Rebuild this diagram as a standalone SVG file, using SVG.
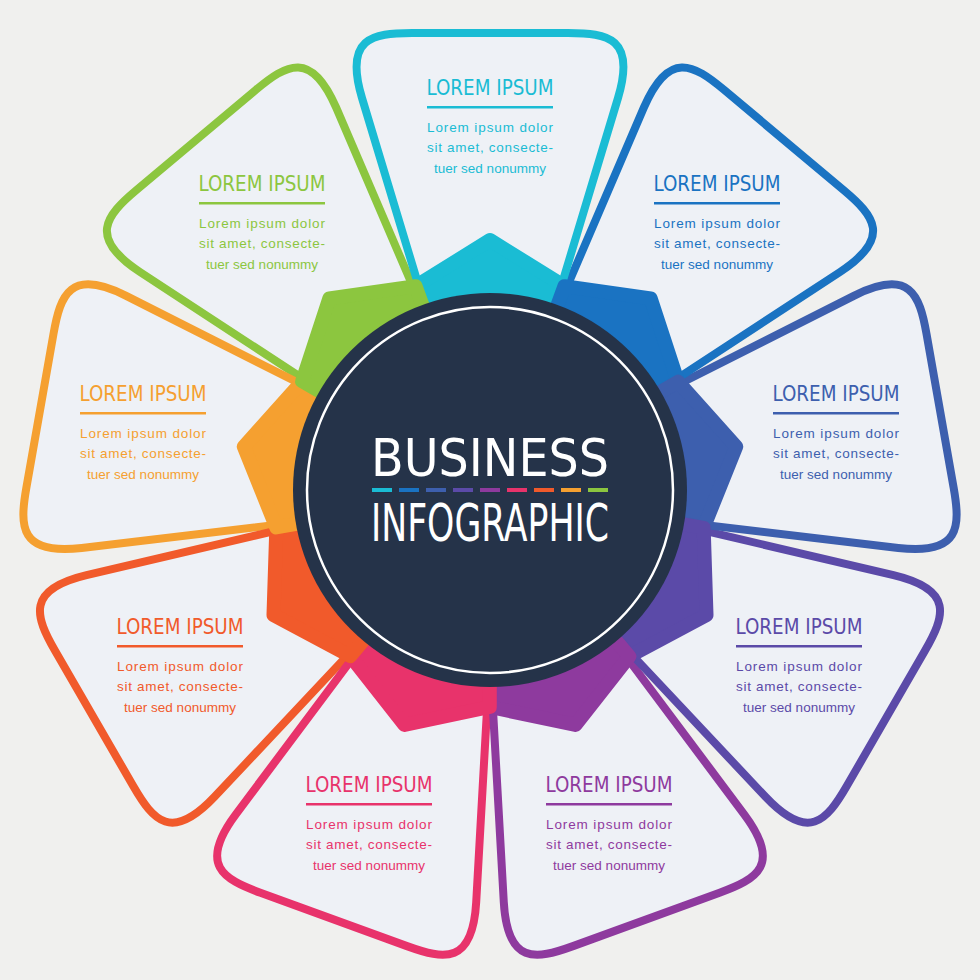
<svg xmlns="http://www.w3.org/2000/svg" width="980" height="980" viewBox="0 0 980 980">
<defs>
<path id="petal" d="M -55,-150 L -128,-392 C -146,-452 -118,-457 -78,-457 L 78,-457 C 118,-457 146,-452 128,-392 L 55,-150 Z"/>
<polygon id="seg" points="0,0 -74,-204 0,-250 74,-204"/>
</defs>
<style>
.p{fill:#EEF1F6;stroke-width:8;stroke-linejoin:round}
.s{stroke-width:14;stroke-linejoin:round}
.t{font-family:"DejaVu Sans Condensed","Liberation Sans",sans-serif;font-stretch:condensed;font-size:21px;text-anchor:middle}
.b{font-family:"Liberation Sans",Arial,sans-serif;font-size:13.5px;text-anchor:middle}
</style>
<rect width="980" height="980" fill="#F0F0EE"/>
<g id="petals" transform="translate(490,490)">
<use href="#petal" class="p" stroke="#8CC63F" transform="rotate(320)"/>
<use href="#petal" class="p" stroke="#F5A030" transform="rotate(280)"/>
<use href="#petal" class="p" stroke="#F15A2B" transform="rotate(240)"/>
<use href="#petal" class="p" stroke="#E8336B" transform="rotate(200)"/>
<use href="#petal" class="p" stroke="#8E3A9E" transform="rotate(160)"/>
<use href="#petal" class="p" stroke="#5B4AA8" transform="rotate(120)"/>
<use href="#petal" class="p" stroke="#3D5FAE" transform="rotate(80)"/>
<use href="#petal" class="p" stroke="#1A73C2" transform="rotate(40)"/>
<use href="#petal" class="p" stroke="#1ABCD4" transform="rotate(0)"/>
</g>
<g id="star" transform="translate(490,490)">
<use href="#seg" class="s" fill="#1ABCD4" stroke="#1ABCD4" transform="rotate(0)"/>
<use href="#seg" class="s" fill="#1A73C2" stroke="#1A73C2" transform="rotate(40)"/>
<use href="#seg" class="s" fill="#3D5FAE" stroke="#3D5FAE" transform="rotate(80)"/>
<use href="#seg" class="s" fill="#5B4AA8" stroke="#5B4AA8" transform="rotate(120)"/>
<use href="#seg" class="s" fill="#8E3A9E" stroke="#8E3A9E" transform="rotate(160)"/>
<use href="#seg" class="s" fill="#E8336B" stroke="#E8336B" transform="rotate(200)"/>
<use href="#seg" class="s" fill="#F15A2B" stroke="#F15A2B" transform="rotate(240)"/>
<use href="#seg" class="s" fill="#F5A030" stroke="#F5A030" transform="rotate(280)"/>
<use href="#seg" class="s" fill="#8CC63F" stroke="#8CC63F" transform="rotate(320)"/>
</g>
<g id="center">
<circle cx="490" cy="490" r="197" fill="#253349"/>
<circle cx="490" cy="490" r="183" fill="none" stroke="#fff" stroke-width="2.5"/>
<text x="490" y="476" font-family="DejaVu Sans Condensed,Liberation Sans,sans-serif" font-stretch="condensed" font-size="52" fill="#fff" text-anchor="middle" textLength="238" lengthAdjust="spacingAndGlyphs">BUSINESS</text>
<text x="490" y="541" font-family="DejaVu Sans Condensed,Liberation Sans,sans-serif" font-stretch="condensed" font-size="52" fill="#fff" text-anchor="middle" textLength="238" lengthAdjust="spacingAndGlyphs">INFOGRAPHIC</text>
<g stroke-width="4">
<line x1="372" y1="490" x2="392" y2="490" stroke="#1ABCD4"/>
<line x1="399" y1="490" x2="419" y2="490" stroke="#1A73C2"/>
<line x1="426" y1="490" x2="446" y2="490" stroke="#3D5FAE"/>
<line x1="453" y1="490" x2="473" y2="490" stroke="#5B4AA8"/>
<line x1="480" y1="490" x2="500" y2="490" stroke="#8E3A9E"/>
<line x1="507" y1="490" x2="527" y2="490" stroke="#E8336B"/>
<line x1="534" y1="490" x2="554" y2="490" stroke="#F15A2B"/>
<line x1="561" y1="490" x2="581" y2="490" stroke="#F5A030"/>
<line x1="588" y1="490" x2="608" y2="490" stroke="#8CC63F"/>
</g>
</g>
<g id="n1" fill="#1ABCD4" transform="translate(490,95)"><text class="t" textLength="127" lengthAdjust="spacingAndGlyphs">LOREM IPSUM</text><rect x="-63" y="11" width="126" height="2.5"/><text class="b" y="37" textLength="126">Lorem ipsum dolor</text><text class="b" y="57" textLength="126">sit amet, consecte-</text><text class="b" y="78">tuer sed nonummy</text></g>
<g id="n2" fill="#1A73C2" transform="translate(717,191)"><text class="t" textLength="127" lengthAdjust="spacingAndGlyphs">LOREM IPSUM</text><rect x="-63" y="11" width="126" height="2.5"/><text class="b" y="37" textLength="126">Lorem ipsum dolor</text><text class="b" y="57" textLength="126">sit amet, consecte-</text><text class="b" y="78">tuer sed nonummy</text></g>
<g id="n3" fill="#3D5FAE" transform="translate(836,401)"><text class="t" textLength="127" lengthAdjust="spacingAndGlyphs">LOREM IPSUM</text><rect x="-63" y="11" width="126" height="2.5"/><text class="b" y="37" textLength="126">Lorem ipsum dolor</text><text class="b" y="57" textLength="126">sit amet, consecte-</text><text class="b" y="78">tuer sed nonummy</text></g>
<g id="n4" fill="#5B4AA8" transform="translate(799,634)"><text class="t" textLength="127" lengthAdjust="spacingAndGlyphs">LOREM IPSUM</text><rect x="-63" y="11" width="126" height="2.5"/><text class="b" y="37" textLength="126">Lorem ipsum dolor</text><text class="b" y="57" textLength="126">sit amet, consecte-</text><text class="b" y="78">tuer sed nonummy</text></g>
<g id="n5" fill="#8E3A9E" transform="translate(609,792)"><text class="t" textLength="127" lengthAdjust="spacingAndGlyphs">LOREM IPSUM</text><rect x="-63" y="11" width="126" height="2.5"/><text class="b" y="37" textLength="126">Lorem ipsum dolor</text><text class="b" y="57" textLength="126">sit amet, consecte-</text><text class="b" y="78">tuer sed nonummy</text></g>
<g id="n6" fill="#E8336B" transform="translate(369,792)"><text class="t" textLength="127" lengthAdjust="spacingAndGlyphs">LOREM IPSUM</text><rect x="-63" y="11" width="126" height="2.5"/><text class="b" y="37" textLength="126">Lorem ipsum dolor</text><text class="b" y="57" textLength="126">sit amet, consecte-</text><text class="b" y="78">tuer sed nonummy</text></g>
<g id="n7" fill="#F15A2B" transform="translate(180,634)"><text class="t" textLength="127" lengthAdjust="spacingAndGlyphs">LOREM IPSUM</text><rect x="-63" y="11" width="126" height="2.5"/><text class="b" y="37" textLength="126">Lorem ipsum dolor</text><text class="b" y="57" textLength="126">sit amet, consecte-</text><text class="b" y="78">tuer sed nonummy</text></g>
<g id="n8" fill="#F5A030" transform="translate(143,401)"><text class="t" textLength="127" lengthAdjust="spacingAndGlyphs">LOREM IPSUM</text><rect x="-63" y="11" width="126" height="2.5"/><text class="b" y="37" textLength="126">Lorem ipsum dolor</text><text class="b" y="57" textLength="126">sit amet, consecte-</text><text class="b" y="78">tuer sed nonummy</text></g>
<g id="n9" fill="#8CC63F" transform="translate(262,191)"><text class="t" textLength="127" lengthAdjust="spacingAndGlyphs">LOREM IPSUM</text><rect x="-63" y="11" width="126" height="2.5"/><text class="b" y="37" textLength="126">Lorem ipsum dolor</text><text class="b" y="57" textLength="126">sit amet, consecte-</text><text class="b" y="78">tuer sed nonummy</text></g>
</svg>
